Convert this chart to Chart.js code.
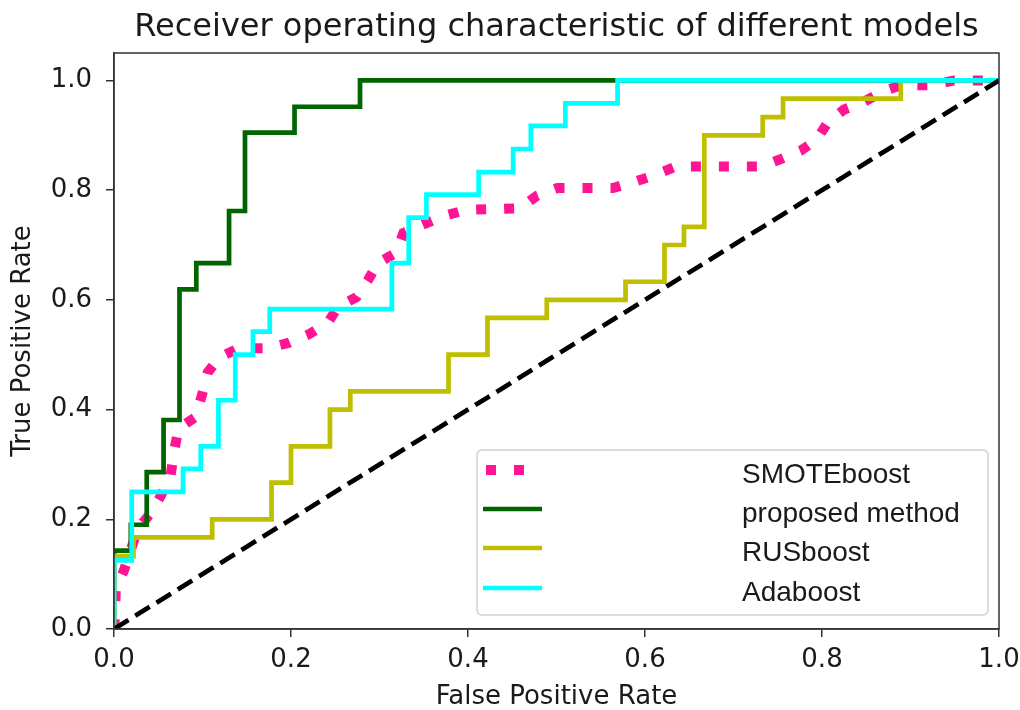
<!DOCTYPE html>
<html>
<head>
<meta charset="utf-8">
<script src="https://cdn.jsdelivr.net/npm/chart.js@4"></script>
<style>
  html, body { margin: 0; padding: 0; background: #fff; }
  #wrap { width: 1020px; height: 710px; }
</style>
</head>
<body>
<div id="wrap"><canvas id="roc" width="1020" height="710"></canvas></div>
<script>
// tick labels
const xTicks = [0, 0.2, 0.4, 0.6, 0.8, 1.0];
const yTicks = [0, 0.2, 0.4, 0.6, 0.8, 1.0];

// SMOTEboost
const smoteFpr = [0, 0.001, 0.002, 0.011, 0.027, 0.042, 0.053, 0.064, 0.068, 0.073, 0.092, 0.1, 0.106, 0.119, 0.141, 0.174, 0.198, 0.22, 0.242, 0.253, 0.274, 0.287, 0.298, 0.319, 0.327, 0.349, 0.373, 0.398, 0.459, 0.478, 0.501, 0.564, 0.588, 0.612, 0.635, 0.731, 0.754, 0.776, 0.794, 0.807, 0.825, 0.846, 0.869, 0.889, 0.923, 0.949, 1];
const smoteTpr = [0, 0.02, 0.073, 0.106, 0.183, 0.212, 0.243, 0.28, 0.325, 0.366, 0.386, 0.43, 0.468, 0.495, 0.512, 0.512, 0.522, 0.537, 0.559, 0.587, 0.605, 0.636, 0.667, 0.686, 0.722, 0.737, 0.753, 0.764, 0.767, 0.79, 0.804, 0.804, 0.815, 0.828, 0.843, 0.843, 0.857, 0.872, 0.892, 0.925, 0.947, 0.96, 0.98, 0.991, 0.991, 1, 1];

// proposed method
const propFpr = [0, 0, 0.019, 0.019, 0.037, 0.037, 0.056, 0.056, 0.074, 0.074, 0.093, 0.093, 0.13, 0.13, 0.148, 0.148, 0.204, 0.204, 0.278, 0.278, 1];
const propTpr = [0, 0.143, 0.143, 0.19, 0.19, 0.286, 0.286, 0.381, 0.381, 0.619, 0.619, 0.667, 0.667, 0.762, 0.762, 0.905, 0.905, 0.952, 0.952, 1, 1];

// RUSboost
const rusFpr = [0, 0, 0.022, 0.022, 0.111, 0.111, 0.178, 0.178, 0.2, 0.2, 0.244, 0.244, 0.267, 0.267, 0.378, 0.378, 0.422, 0.422, 0.489, 0.489, 0.578, 0.578, 0.622, 0.622, 0.644, 0.644, 0.667, 0.667, 0.733, 0.733, 0.756, 0.756, 0.889, 0.889, 1];
const rusTpr = [0, 0.133, 0.133, 0.167, 0.167, 0.2, 0.2, 0.267, 0.267, 0.333, 0.333, 0.4, 0.4, 0.433, 0.433, 0.5, 0.5, 0.567, 0.567, 0.6, 0.6, 0.633, 0.633, 0.7, 0.7, 0.733, 0.733, 0.9, 0.9, 0.933, 0.933, 0.967, 0.967, 1, 1];

// Adaboost
const adaFpr = [0, 0, 0.02, 0.02, 0.078, 0.078, 0.098, 0.098, 0.118, 0.118, 0.137, 0.137, 0.157, 0.157, 0.176, 0.176, 0.314, 0.314, 0.333, 0.333, 0.353, 0.353, 0.412, 0.412, 0.451, 0.451, 0.471, 0.471, 0.51, 0.51, 0.569, 0.569, 1];
const adaTpr = [0, 0.125, 0.125, 0.25, 0.25, 0.292, 0.292, 0.333, 0.333, 0.417, 0.417, 0.5, 0.5, 0.542, 0.542, 0.583, 0.583, 0.667, 0.667, 0.75, 0.75, 0.792, 0.792, 0.833, 0.833, 0.875, 0.875, 0.917, 0.917, 0.958, 0.958, 1, 1];

// chance line
const diagFpr = [0, 1];
const diagTpr = [0, 1];

function pts(xs, ys) {
  return xs.map((x, i) => ({ x: x, y: ys[i] }));
}

const tickFont = { family: '"DejaVu Sans"', size: 26 };
const textColor = '#1a1a1a';

// legend box like the matplotlib one, inside the plot, lower right
const boxLegend = {
  id: 'boxLegend',
  afterDraw(chart) {
    const ctx = chart.ctx;
    const a = chart.chartArea;
    ctx.save();
    // frame on all four sides
    ctx.strokeStyle = '#333';
    ctx.lineWidth = 1.5;
    ctx.strokeRect(a.left, a.top, a.right - a.left, a.bottom - a.top);

    const x0 = 477, y0 = 450, w = 511, h = 165, r = 5;
    ctx.beginPath();
    ctx.moveTo(x0 + r, y0);
    ctx.arcTo(x0 + w, y0, x0 + w, y0 + h, r);
    ctx.arcTo(x0 + w, y0 + h, x0, y0 + h, r);
    ctx.arcTo(x0, y0 + h, x0, y0, r);
    ctx.arcTo(x0, y0, x0 + w, y0, r);
    ctx.closePath();
    ctx.fillStyle = 'rgba(255,255,255,0.8)';
    ctx.fill();
    ctx.strokeStyle = '#d0d0d0';
    ctx.lineWidth = 1.5;
    ctx.stroke();

    const rows = [470, 509, 548, 588];
    let k = 0;
    chart.data.datasets.forEach(ds => {
      if (ds.noLegend) return;
      const y = rows[k++];
      ctx.beginPath();
      ctx.setLineDash(ds.borderDash || []);
      ctx.lineCap = 'butt';
      ctx.strokeStyle = ds.borderColor;
      ctx.lineWidth = ds.borderWidth;
      ctx.moveTo(ds.borderDash ? 486 : 483, y);
      ctx.lineTo(542, y);
      ctx.stroke();
      ctx.setLineDash([]);
      ctx.fillStyle = textColor;
      ctx.font = '28px "Liberation Sans", Arial, sans-serif';
      ctx.textBaseline = 'alphabetic';
      ctx.textAlign = 'left';
      ctx.fillText(ds.label, 742, y + 13);
    });
    ctx.restore();
  }
};

new Chart(document.getElementById('roc'), {
  type: 'scatter',
  data: {
    datasets: [
      { label: 'SMOTEboost', data: pts(smoteFpr, smoteTpr), borderColor: '#ff1493', borderWidth: 10, borderDash: [10, 18], order: 5 },
      { label: 'proposed method', data: pts(propFpr, propTpr), borderColor: '#006400', borderWidth: 4.7, order: 4 },
      { label: 'RUSboost', data: pts(rusFpr, rusTpr), borderColor: '#bfbf00', borderWidth: 4.7, order: 3 },
      { label: 'Adaboost', data: pts(adaFpr, adaTpr), borderColor: '#00ffff', borderWidth: 4.7, order: 2 },
      { label: 'chance', data: pts(diagFpr, diagTpr), borderColor: '#000000', borderWidth: 4.7, borderDash: [17, 8], order: 1, noLegend: true }
    ]
  },
  options: {
    responsive: false,
    animation: false,
    showLine: true,
    layout: { padding: { left: 0, right: 21, top: 0, bottom: 0 } },
    elements: {
      point: { radius: 0, hoverRadius: 0 },
      line: { tension: 0, borderCapStyle: 'butt', borderJoinStyle: 'miter', fill: false }
    },
    scales: {
      x: {
        type: 'linear',
        min: 0, max: 1,
        afterFit(s) { s.height = 81; s.paddingLeft = 0; s.paddingRight = 0; },
        afterBuildTicks(s) { s.ticks = xTicks.map(v => ({ value: v })); },
        grid: { drawOnChartArea: false, drawTicks: true, tickLength: 8, color: '#333', lineWidth: 1.5 },
        border: { display: true, color: '#333', width: 1.5 },
        ticks: { font: tickFont, color: textColor, padding: 8, maxRotation: 0, callback: v => v.toFixed(1) },
        title: { display: true, text: 'False Positive Rate', font: { family: '"DejaVu Sans"', size: 26, lineHeight: 1 }, color: textColor, padding: 0 }
      },
      y: {
        type: 'linear',
        min: 0, max: 1.05,
        afterFit(s) { s.width = 114; s.paddingTop = 0; s.paddingBottom = 0; },
        afterBuildTicks(s) { s.ticks = yTicks.map(v => ({ value: v })); },
        grid: { drawOnChartArea: false, drawTicks: true, tickLength: 8, color: '#333', lineWidth: 1.5 },
        border: { display: true, color: '#333', width: 1.5 },
        ticks: { font: tickFont, color: textColor, padding: 14, callback: v => v.toFixed(1) },
        title: { display: true, text: 'True Positive Rate', font: { family: '"DejaVu Sans"', size: 26, lineHeight: 1.2 }, color: textColor, padding: { top: 8, bottom: 0 } }
      }
    },
    plugins: {
      legend: { display: false },
      tooltip: { enabled: false },
      title: {
        display: true,
        fullSize: false,
        text: 'Receiver operating characteristic of different models',
        font: { family: '"DejaVu Sans"', size: 32, weight: 'normal', lineHeight: 1.2 },
        color: textColor,
        padding: { top: 8.5, bottom: 6.1 }
      }
    }
  },
  plugins: [boxLegend]
});
</script>
</body>
</html>
